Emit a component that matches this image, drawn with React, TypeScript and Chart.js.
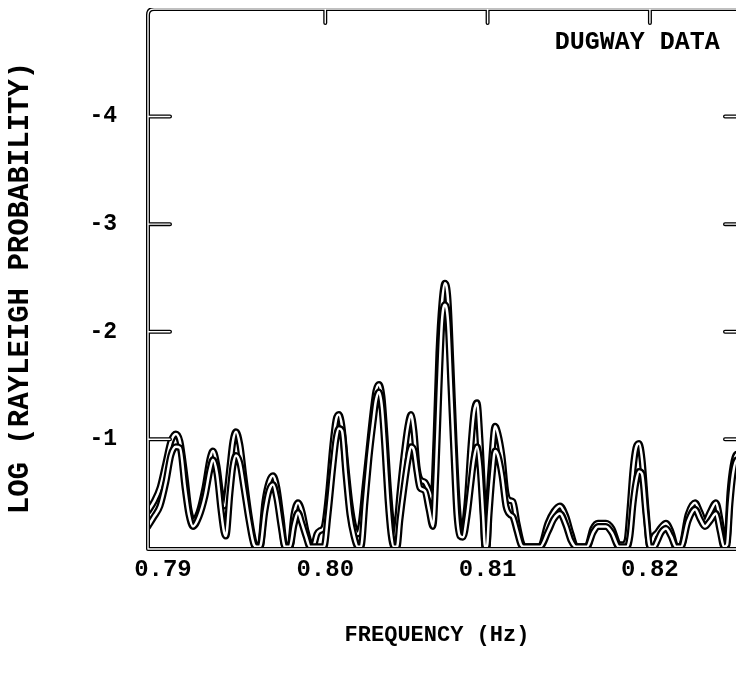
import React, { useEffect, useRef } from "react";
import { Chart, registerables } from "chart.js";

Chart.register(...registerables);

// Frequency grid (Hz)
const frequency = [
  0.78908, 0.78945, 0.78982, 0.79018, 0.79049, 0.7908, 0.79105, 0.79136, 0.7916, 0.79185,
  0.79222, 0.79259, 0.7929, 0.79308, 0.79333, 0.79357, 0.79376, 0.79388, 0.79413, 0.79431,
  0.7945, 0.79474, 0.79499, 0.7953, 0.79561, 0.79579, 0.79598, 0.79628, 0.79653, 0.79678,
  0.79702, 0.79727, 0.79752, 0.79782, 0.79807, 0.79832, 0.79856, 0.79881, 0.79906, 0.79924,
  0.79949, 0.79967, 0.79992, 0.80017, 0.80047, 0.80066, 0.80084, 0.80103, 0.80127, 0.80152,
  0.80177, 0.80201, 0.8022, 0.80245, 0.80269, 0.80294, 0.80312, 0.80331, 0.80349, 0.80368,
  0.80386, 0.80405, 0.80423, 0.80442, 0.8046, 0.80485, 0.80509, 0.80528, 0.80546, 0.80565,
  0.80583, 0.80614, 0.80639, 0.80663, 0.80682, 0.807, 0.80719, 0.80737, 0.80756, 0.80774,
  0.80793, 0.80811, 0.8083, 0.80848, 0.80873, 0.80898, 0.80916, 0.80935, 0.80953, 0.80972,
  0.80984, 0.80996, 0.81009, 0.81027, 0.81046, 0.81064, 0.81089, 0.81113, 0.81138, 0.81156,
  0.81181, 0.81206, 0.81224, 0.81323, 0.81372, 0.81409, 0.81446, 0.81483, 0.81514, 0.81545,
  0.81612, 0.81649, 0.8168, 0.81729, 0.81766, 0.81809, 0.81834, 0.81859, 0.81877, 0.81896,
  0.81914, 0.81933, 0.81951, 0.81976, 0.82, 0.82025, 0.82044, 0.82068, 0.82099, 0.8213,
  0.82161, 0.82191, 0.82235, 0.82278, 0.82309, 0.82339, 0.8237, 0.82407, 0.82432, 0.82456,
  0.82475, 0.82493, 0.82512, 0.82536, 0.82561, 0.82586,
];

// -log(Rayleigh probability), upper curve
const upperCurve = [
  0.33, 0.42, 0.55, 0.78, 0.98, 1.05, 0.98, 0.65, 0.35, 0.24,
  0.32, 0.55, 0.82, 0.89, 0.75, 0.48, 0.38, 0.42, 0.75, 0.98,
  1.07, 0.95, 0.65, 0.3, 0.04, 0, 0, 0.42, 0.6, 0.66,
  0.55, 0.28, 0, 0, 0.3, 0.41, 0.33, 0.15, 0.02, 0,
  0.12, 0.15, 0.18, 0.45, 0.95, 1.18, 1.23, 1.12, 0.75, 0.4,
  0.18, 0.12, 0.2, 0.56, 0.9, 1.25, 1.45, 1.51, 1.4, 1.03,
  0.6, 0.25, 0.08, 0.2, 0.5, 0.85, 1.12, 1.23, 1.08, 0.75,
  0.63, 0.6, 0.52, 0.44, 1.0, 1.8, 2.27, 2.45, 2.3, 1.7,
  1.0, 0.45, 0.16, 0.14, 0.4, 0.95, 1.25, 1.34, 1.0, 0.4,
  0, 0, 0.45, 0.85, 1.12, 1.05, 0.84, 0.5, 0.43, 0.42,
  0.22, 0.05, 0, 0, 0.22, 0.33, 0.38, 0.28, 0.12, 0,
  0, 0.17, 0.22, 0.22, 0.17, 0.02, 0.02, 0.06, 0.35, 0.72,
  0.92, 0.96, 0.82, 0.35, 0, 0.1, 0.13, 0.18, 0.22, 0.14,
  0, 0, 0.3, 0.41, 0.32, 0.23, 0.32, 0.41, 0.25, 0.02,
  0.05, 0.5, 0.75, 0.86, 0.85, 0.6,
];

// -log(Rayleigh probability), lower curve
const lowerCurve = [
  0.19, 0.28, 0.38, 0.6, 0.85, 0.93, 0.92, 0.55, 0.3, 0.19,
  0.28, 0.47, 0.72, 0.81, 0.68, 0.35, 0.14, 0.1, 0.5, 0.75,
  0.85, 0.78, 0.55, 0.25, 0.02, 0, 0, 0.33, 0.52, 0.58,
  0.45, 0.2, 0, 0, 0.2, 0.32, 0.22, 0.1, 0, 0,
  0, 0, 0, 0.3, 0.75, 1.0, 1.1, 1.08, 0.68, 0.3,
  0.1, 0, 0, 0.42, 0.82, 1.15, 1.36, 1.44, 1.3, 0.9,
  0.45, 0.12, 0, 0, 0.25, 0.55, 0.8, 0.93, 0.9, 0.7,
  0.55, 0.52, 0.35, 0.19, 0.7, 1.45, 2.1, 2.25, 2.1, 1.5,
  0.85, 0.3, 0.1, 0.09, 0.28, 0.6, 0.82, 0.93, 0.75, 0.3,
  0, 0, 0.3, 0.65, 0.89, 0.85, 0.66, 0.38, 0.3, 0.28,
  0.15, 0.02, 0, 0, 0.14, 0.26, 0.31, 0.2, 0.06, 0,
  0, 0.13, 0.19, 0.19, 0.13, 0, 0, 0, 0.1, 0.4,
  0.6, 0.7, 0.68, 0.3, 0, 0, 0.05, 0.13, 0.17, 0.1,
  0, 0, 0.24, 0.35, 0.26, 0.19, 0.24, 0.31, 0.15, 0,
  0.02, 0.4, 0.68, 0.81, 0.78, 0.55,
];

const xTickValues = [0.79, 0.8, 0.81, 0.82];
const yTickValues = [1, 2, 3, 4];
const annotationText = "DUGWAY DATA";
const xTitle = "FREQUENCY (Hz)";
const yTitle = "LOG (RAYLEIGH PROBABILITY)";

const FONT = "'Liberation Mono', 'Courier New', monospace";

function strokeHollow(ctx: CanvasRenderingContext2D, build: () => void, outer: number, inner: number) {
  ctx.save();
  ctx.lineCap = "round";
  ctx.lineJoin = "round";
  build();
  ctx.strokeStyle = "#000";
  ctx.lineWidth = outer;
  ctx.stroke();
  ctx.strokeStyle = "#fff";
  ctx.lineWidth = inner;
  ctx.stroke();
  ctx.restore();
}

const framePlugin = {
  id: "scanFrame",
  afterDatasetsDraw(chart: any) {
    const { ctx, chartArea, scales } = chart;
    const { left, right, top, bottom } = chartArea;
    const xs = scales.x;
    const ys = scales.y;
    strokeHollow(
      ctx,
      () => {
        ctx.beginPath();
        ctx.moveTo(left, bottom);
        ctx.lineTo(left, top + 6);
        ctx.quadraticCurveTo(left, top, left + 6, top);
        ctx.lineTo(right, top);
        ctx.lineTo(right, bottom);
        ctx.closePath();
        yTickValues.forEach((v) => {
          const py = ys.getPixelForValue(v);
          ctx.moveTo(left, py);
          ctx.lineTo(left + 22, py);
          ctx.moveTo(right, py);
          ctx.lineTo(right - 22, py);
        });
        xTickValues.slice(1).forEach((v) => {
          const px = xs.getPixelForValue(v);
          ctx.moveTo(px, top);
          ctx.lineTo(px, top + 14);
        });
      },
      4,
      1.4
    );
    ctx.save();
    ctx.fillStyle = "#000";
    // annotation inside the plot
    ctx.font = `bold 25px ${FONT}`;
    ctx.textAlign = "right";
    ctx.textBaseline = "middle";
    ctx.fillText(annotationText, xs.getPixelForValue(0.8243), ys.getPixelForValue(4.69));
    // x-axis title
    ctx.font = `bold 22px ${FONT}`;
    ctx.textAlign = "center";
    ctx.fillText(xTitle, left + 289, bottom + 86);
    // y-axis title (rotated)
    ctx.translate(13, (top + bottom) / 2 + 9);
    ctx.rotate(-Math.PI / 2);
    ctx.font = `bold 29px ${FONT}`;
    ctx.fillText(yTitle, 0, 0);
    ctx.restore();
  },
};

export default function App() {
  const ref = useRef<HTMLCanvasElement | null>(null);

  useEffect(() => {
    if (!ref.current) return;
    const mk = (vals: number[]) => frequency.map((f, i) => ({ x: f, y: vals[i] }));
    const line = (vals: number[], color: string, width: number, order: number) => ({
      data: mk(vals),
      borderColor: color,
      borderWidth: width,
      pointRadius: 0,
      fill: false,
      cubicInterpolationMode: "monotone" as const,
      borderCapStyle: "round" as const,
      borderJoinStyle: "round" as const,
      order,
    });
    const chart = new Chart(ref.current, {
      type: "line",
      data: {
        datasets: [
          line(upperCurve, "#000", 7, 4),
          line(upperCurve, "#fff", 2.5, 3),
          line(lowerCurve, "#000", 7, 2),
          line(lowerCurve, "#fff", 2.5, 1),
        ],
      },
      options: {
        animation: false,
        responsive: false,
        devicePixelRatio: 1,
        layout: { padding: { top: 1, right: 21, left: 0, bottom: 0 } },
        plugins: { legend: { display: false }, tooltip: { enabled: false } },
        scales: {
          x: {
            type: "linear",
            min: 0.78908,
            max: 0.82598,
            grid: { display: false, drawTicks: false },
            border: { display: false },
            afterBuildTicks: (s: any) => {
              s.ticks = xTickValues.map((v) => ({ value: v }));
            },
            afterFit: (s: any) => {
              s.height = 128;
              s.paddingLeft = 0;
              s.paddingRight = 0;
            },
            ticks: {
              autoSkip: false,
              maxRotation: 0,
              padding: 7,
              color: "#000",
              font: { family: FONT, size: 24, weight: "bold" },
              callback: (v: any) => Number(v).toFixed(2),
            },
            title: { display: false },
          },
          y: {
            type: "linear",
            min: -0.02,
            max: 5,
            grid: { display: false, drawTicks: false },
            border: { display: false },
            afterBuildTicks: (s: any) => {
              s.ticks = yTickValues.map((v) => ({ value: v }));
            },
            afterFit: (s: any) => {
              s.width = 140;
              s.paddingTop = 0;
              s.paddingBottom = 0;
            },
            ticks: {
              padding: 31,
              color: "#000",
              font: { family: FONT, size: 23, weight: "bold" },
              callback: (v: any) => "-" + Number(v),
            },
            title: { display: false },
          },
        },
      },
      plugins: [framePlugin],
    });
    return () => chart.destroy();
  }, []);

  return (
    <div style={{ width: 736, overflow: "hidden" }}>
      <canvas ref={ref} width={760} height={669} style={{ display: "block", width: 760, height: 669 }} />
    </div>
  );
}
